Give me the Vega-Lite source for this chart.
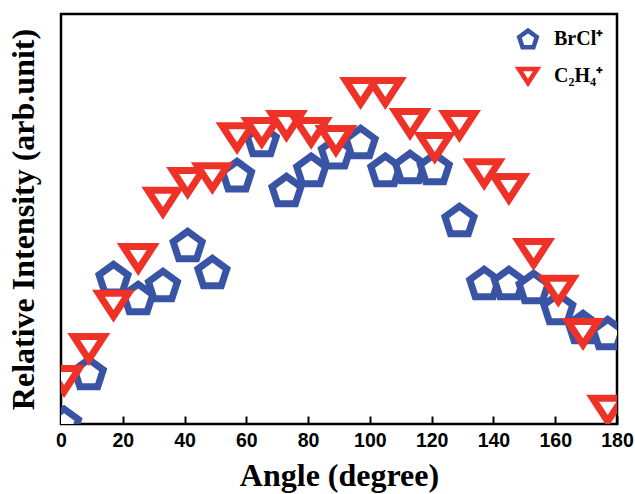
{
  "$schema": "https://vega.github.io/schema/vega-lite/v6.json",
  "width": 556,
  "height": 410,
  "autosize": {"type": "none"},
  "padding": {"left": 61, "top": 14, "right": 18, "bottom": 70},
  "background": "white",
  "config": {"view": {"stroke": "black", "strokeWidth": 2.5}},
  "data": {"values": [
    {"ion": "BrCl⁺", "angle": 1, "intensity": 0.3},
    {"ion": "BrCl⁺", "angle": 9, "intensity": 12.6},
    {"ion": "BrCl⁺", "angle": 17, "intensity": 36.1},
    {"ion": "BrCl⁺", "angle": 25, "intensity": 31.2},
    {"ion": "BrCl⁺", "angle": 33, "intensity": 34.4},
    {"ion": "BrCl⁺", "angle": 41, "intensity": 44.3},
    {"ion": "BrCl⁺", "angle": 49, "intensity": 37.6},
    {"ion": "BrCl⁺", "angle": 57, "intensity": 61.6},
    {"ion": "BrCl⁺", "angle": 65, "intensity": 70.3},
    {"ion": "BrCl⁺", "angle": 73, "intensity": 57.9},
    {"ion": "BrCl⁺", "angle": 81, "intensity": 62.9},
    {"ion": "BrCl⁺", "angle": 89, "intensity": 67.3},
    {"ion": "BrCl⁺", "angle": 97, "intensity": 69.8},
    {"ion": "BrCl⁺", "angle": 105, "intensity": 62.9},
    {"ion": "BrCl⁺", "angle": 113, "intensity": 63.6},
    {"ion": "BrCl⁺", "angle": 121, "intensity": 63.4},
    {"ion": "BrCl⁺", "angle": 129, "intensity": 50.5},
    {"ion": "BrCl⁺", "angle": 137, "intensity": 34.9},
    {"ion": "BrCl⁺", "angle": 145, "intensity": 34.9},
    {"ion": "BrCl⁺", "angle": 153, "intensity": 33.9},
    {"ion": "BrCl⁺", "angle": 161, "intensity": 28.7},
    {"ion": "BrCl⁺", "angle": 169, "intensity": 24.0},
    {"ion": "BrCl⁺", "angle": 177, "intensity": 22.5},
    {"ion": "C₂H₄⁺", "angle": 1, "intensity": 10.9},
    {"ion": "C₂H₄⁺", "angle": 9, "intensity": 18.8},
    {"ion": "C₂H₄⁺", "angle": 17, "intensity": 29.5},
    {"ion": "C₂H₄⁺", "angle": 25, "intensity": 41.1},
    {"ion": "C₂H₄⁺", "angle": 33, "intensity": 55.0},
    {"ion": "C₂H₄⁺", "angle": 41, "intensity": 59.9},
    {"ion": "C₂H₄⁺", "angle": 49, "intensity": 61.1},
    {"ion": "C₂H₄⁺", "angle": 57, "intensity": 71.0},
    {"ion": "C₂H₄⁺", "angle": 65, "intensity": 72.3},
    {"ion": "C₂H₄⁺", "angle": 73, "intensity": 74.0},
    {"ion": "C₂H₄⁺", "angle": 81, "intensity": 72.3},
    {"ion": "C₂H₄⁺", "angle": 89, "intensity": 70.3},
    {"ion": "C₂H₄⁺", "angle": 97, "intensity": 82.2},
    {"ion": "C₂H₄⁺", "angle": 105, "intensity": 82.2},
    {"ion": "C₂H₄⁺", "angle": 113, "intensity": 74.5},
    {"ion": "C₂H₄⁺", "angle": 121, "intensity": 68.6},
    {"ion": "C₂H₄⁺", "angle": 129, "intensity": 74.0},
    {"ion": "C₂H₄⁺", "angle": 137, "intensity": 62.1},
    {"ion": "C₂H₄⁺", "angle": 145, "intensity": 58.4},
    {"ion": "C₂H₄⁺", "angle": 153, "intensity": 42.3},
    {"ion": "C₂H₄⁺", "angle": 161, "intensity": 33.2},
    {"ion": "C₂H₄⁺", "angle": 169, "intensity": 22.5},
    {"ion": "C₂H₄⁺", "angle": 177, "intensity": 3.5}
  ]},
  "mark": {"type": "point", "filled": false, "fill": "white", "fillOpacity": 1, "opacity": 1, "strokeWidth": 7, "size": 1024, "clip": true},
  "encoding": {
    "x": {
      "field": "angle", "type": "quantitative",
      "scale": {"domain": [0, 180], "nice": false, "zero": false},
      "axis": {
        "values": [0, 20, 40, 60, 80, 100, 120, 140, 160, 180],
        "tickSize": -8, "tickWidth": 2, "tickColor": "black",
        "domain": false, "grid": false,
        "labelFont": "Liberation Sans", "labelFontWeight": "bold", "labelFontSize": 19.5, "labelColor": "black",
        "labelPadding": 15, "labelFlush": false,
        "title": "Angle (degree)", "titleFont": "Liberation Serif", "titleFontSize": 32, "titleFontWeight": "bold", "titleColor": "black", "titlePadding": 11
      }
    },
    "y": {
      "field": "intensity", "type": "quantitative",
      "scale": {"domain": [0, 101.5], "nice": false},
      "axis": {
        "title": "Relative Intensity (arb.unit)", "ticks": false, "labels": false, "domain": false, "grid": false,
        "titleFont": "Liberation Serif", "titleFontSize": 32, "titleFontWeight": "bold", "titleColor": "black", "titlePadding": 21
      }
    },
    "color": {
      "field": "ion", "type": "nominal",
      "scale": {"domain": ["BrCl⁺", "C₂H₄⁺"], "range": ["#3953a5", "#ee3227"]},
      "legend": {
        "title": null, "orient": "none", "legendX": 455, "legendY": 13,
        "labelFont": "Liberation Serif", "labelFontWeight": "bold", "labelFontSize": 20, "labelColor": "black",
        "symbolSize": 380, "symbolStrokeWidth": 4.5, "symbolFillColor": "white", "rowPadding": 2, "labelOffset": 14
      }
    },
    "shape": {
      "field": "ion", "type": "nominal",
      "scale": {"domain": ["BrCl⁺", "C₂H₄⁺"], "range": ["M0,-0.86L0.903,-0.204L0.558,0.859L-0.558,0.859L-0.903,-0.204Z", "M-0.94,-0.72L0.94,-0.72L0,0.72Z"]}
    }
  }
}
